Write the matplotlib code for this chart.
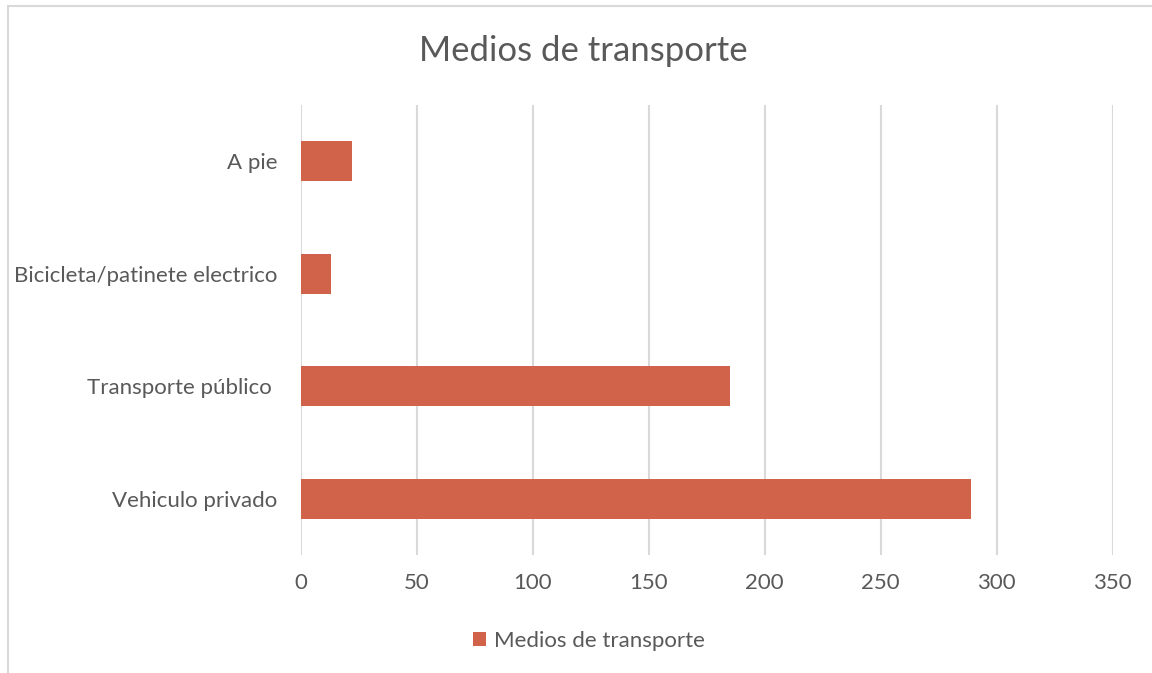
import matplotlib
matplotlib.use('Agg')
import matplotlib.pyplot as plt
from matplotlib.patches import Rectangle

# datos
categorias = ['Vehiculo privado', 'Transporte público ', 'Bicicleta/patinete electrico', 'A pie']
valores = [289, 185, 13, 22]
ticks_x = [0, 50, 100, 150, 200, 250, 300, 350]
serie = 'Medios de transporte'

color_barra = '#D0634A'
gris = '#595959'
rejilla = '#D9D9D9'

plt.rcParams['font.family'] = ['Lato', 'DejaVu Sans']

fig = plt.figure(figsize=(11.52, 6.73), dpi=100)
ax = fig.add_axes([0.2609, 0.1753, 0.705, 0.6686])

pos = list(range(len(categorias)))
ax.barh(pos, valores, height=0.356, color=color_barra, label=serie, zorder=3)

ax.set_xlim(0, 350)
ax.set_ylim(-0.5, len(categorias) - 0.5)
ax.set_xticks(ticks_x)
ax.set_yticks(pos)
ax.set_yticklabels(categorias)
ax.grid(axis='x', color=rejilla, linewidth=1.5, zorder=0)
ax.grid(axis='y', visible=False)
for s in ax.spines.values():
    s.set_visible(False)
ax.tick_params(axis='y', length=0, pad=16.5, labelsize=16, labelcolor=gris)
ax.tick_params(axis='x', length=0, pad=13, labelsize=16, labelcolor=gris)

fig.text(0.506, 0.924, 'Medios de transporte', ha='center', va='center',
         fontsize=25, color=gris)

fig.legend(loc='center', bbox_to_anchor=(0.511, 0.0475), frameon=False,
           fontsize=16, labelcolor=gris, handlelength=0.6, handleheight=0.6,
           handletextpad=0.35)

# borde del grafico
fig.patches.append(Rectangle((7.5 / 1152, -0.1), 2, 1 - 5.7 / 673 + 0.1,
                             transform=fig.transFigure, fill=False,
                             edgecolor=rejilla, linewidth=1.5))

fig.savefig('out.png', dpi=100, facecolor='white')
